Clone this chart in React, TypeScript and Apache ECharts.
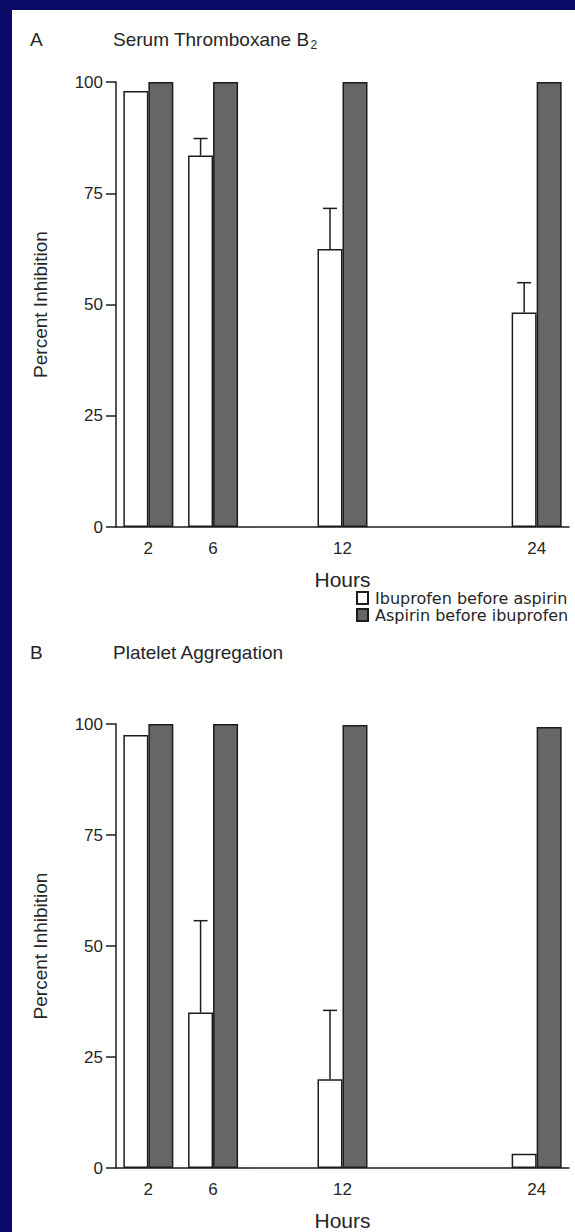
import React, { useEffect, useRef } from "react";
import * as echarts from "echarts";

// ---- data ----
const hours = ["2", "6", "12", "24"];
const hourSlots = [0, 1, 3, 6]; // where each hour group sits along the category axis
const slotCount = 7;

const seriesNames = ["Ibuprofen before aspirin", "Aspirin before ibuprofen"];

// Panel A: Serum Thromboxane B2 (percent inhibition)
const ibuBeforeAspA = [98, 83.5, 62.5, 48.2];
const ibuBeforeAspAUpper = [null, 87.3, 71.6, 54.9];
const aspBeforeIbuA = [100, 100, 100, 100];

// Panel B: Platelet Aggregation (percent inhibition)
const ibuBeforeAspB = [97.5, 35, 20, 3.2];
const ibuBeforeAspBUpper = [null, 55.7, 35.5, null];
const aspBeforeIbuB = [100, 100, 99.8, 99.3];

const yMin = 0;
const yMax = 100;
const yStep = 25;

// ---- helpers ----
const categories: string[] = Array.from({ length: slotCount }, () => "");
hours.forEach((h, i) => (categories[hourSlots[i]] = h));

const toSlots = (vals: (number | null)[]) => {
  const out: (number | null)[] = Array.from({ length: slotCount }, () => null);
  vals.forEach((v, i) => (out[hourSlots[i]] = v));
  return out;
};

const errData = (means: number[], uppers: (number | null)[]) =>
  means
    .map((m, i) => (uppers[i] == null ? null : [hourSlots[i], m, uppers[i]]))
    .filter((d) => d != null);

const BAR_W = 25;
const INK = "#1c1c1c";
const TEXT = "#262626";
const FONT = "Liberation Sans, Arial, sans-serif";

export default function App() {
  const ref = useRef<HTMLDivElement>(null);

  useEffect(() => {
    if (!ref.current) return;
    const chart = echarts.init(ref.current, undefined, { renderer: "svg" });

    const grids = [
      { left: 116, top: 82, width: 453, height: 445 },
      { left: 116, top: 724, width: 453, height: 446 },
    ];

    const xAxes = grids.map((_, gi) => ({
      type: "category",
      gridIndex: gi,
      data: categories,
      boundaryGap: true,
      axisTick: { show: false },
      axisLine: { lineStyle: { color: INK, width: 1.5 } },
      axisLabel: { interval: 0, fontSize: 17, color: TEXT, margin: 13, fontFamily: FONT },
      name: "Hours",
      nameLocation: "middle",
      nameGap: 42,
      nameTextStyle: { fontSize: 21, color: TEXT, fontFamily: FONT },
    }));

    const yAxes = grids.map((_, gi) => ({
      type: "value",
      gridIndex: gi,
      min: yMin,
      max: yMax,
      interval: yStep,
      splitLine: { show: false },
      axisLine: { show: true, lineStyle: { color: INK, width: 1.5 } },
      axisTick: { show: true, length: 10, lineStyle: { color: INK, width: 1.5 } },
      axisLabel: { fontSize: 17, color: TEXT, margin: 13, fontFamily: FONT },
      name: "Percent Inhibition",
      nameLocation: "middle",
      nameGap: 66,
      nameTextStyle: { fontSize: 19, color: TEXT, fontFamily: FONT },
    }));

    const whiteStyle = { color: "#ffffff", borderColor: INK, borderWidth: 1.5 };
    const darkStyle = { color: "#666666", borderColor: INK, borderWidth: 1.5 };

    const errSeries = (gi: number, data: any[]) => ({
      type: "custom",
      xAxisIndex: gi,
      yAxisIndex: gi,
      z: 5,
      silent: true,
      data,
      renderItem: (_p: any, api: any) => {
        const x = api.value(0);
        const p0 = api.coord([x, api.value(1)]);
        const p1 = api.coord([x, api.value(2)]);
        const cx = p0[0] - BAR_W / 2;
        const st = { stroke: INK, lineWidth: 1.5 };
        return {
          type: "group",
          children: [
            { type: "line", shape: { x1: cx, y1: p0[1], x2: cx, y2: p1[1] }, style: st },
            { type: "line", shape: { x1: cx - 7, y1: p1[1], x2: cx + 7, y2: p1[1] }, style: st },
          ],
        };
      },
    });

    const panels = [
      { ibu: ibuBeforeAspA, up: ibuBeforeAspAUpper, asp: aspBeforeIbuA },
      { ibu: ibuBeforeAspB, up: ibuBeforeAspBUpper, asp: aspBeforeIbuB },
    ];

    const series: any[] = [];
    panels.forEach((p, gi) => {
      series.push({
        type: "bar",
        name: seriesNames[0],
        xAxisIndex: gi,
        yAxisIndex: gi,
        data: toSlots(p.ibu),
        barWidth: BAR_W,
        barGap: "0%",
        itemStyle: whiteStyle,
      });
      series.push({
        type: "bar",
        name: seriesNames[1],
        xAxisIndex: gi,
        yAxisIndex: gi,
        data: toSlots(p.asp),
        barWidth: BAR_W,
        barGap: "0%",
        itemStyle: darkStyle,
      });
      series.push(errSeries(gi, errData(p.ibu, p.up)));
    });

    const titleStyle = { fill: TEXT, fontSize: 19, fontFamily: FONT };

    chart.setOption({
      animation: false,
      backgroundColor: "#0a0a68",
      grid: grids,
      xAxis: xAxes,
      yAxis: yAxes,
      legend: {
        data: seriesNames.map((n) => ({ name: n, icon: "rect" })),
        orient: "vertical",
        left: 351,
        top: 585,
        itemWidth: 11,
        itemHeight: 12,
        itemGap: 1,
        selectedMode: false,
        textStyle: {
          fontSize: 16,
          color: TEXT,
          fontFamily: "DejaVu Sans, sans-serif",
          lineHeight: 15,
          padding: [0, 0, 0, 2],
        },
      },
      graphic: [
        {
          type: "rect",
          z: -10,
          silent: true,
          shape: { x: 12, y: 10, width: 575 - 12, height: 1232 - 10 },
          style: { fill: "#ffffff" },
        },
        { type: "text", x: 30, y: 39, style: { ...titleStyle, text: "A", verticalAlign: "middle" } },
        {
          type: "text",
          x: 113,
          y: 39,
          style: {
            ...titleStyle,
            text: "Serum Thromboxane B{sub|2}",
            verticalAlign: "middle",
            lineHeight: 24,
            rich: {
              sub: { fontSize: 12, fontFamily: FONT, fill: TEXT, verticalAlign: "bottom", lineHeight: 10, padding: [0, 0, 0, 1] },
            },
          },
        },
        { type: "text", x: 30, y: 652, style: { ...titleStyle, text: "B", verticalAlign: "middle" } },
        {
          type: "text",
          x: 113,
          y: 652,
          style: { ...titleStyle, text: "Platelet Aggregation", verticalAlign: "middle" },
        },
      ],
      series,
    });

    return () => chart.dispose();
  }, []);

  return (
    <div
      ref={ref}
      style={{ position: "absolute", left: 0, top: 0, width: 575, height: 1232 }}
    />
  );
}
